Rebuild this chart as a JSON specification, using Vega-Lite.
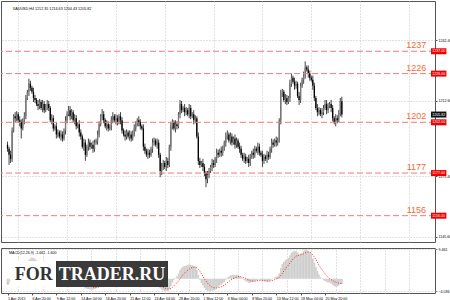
{
"$schema": "https://vega.github.io/schema/vega-lite/v6.json",
"padding": 0,
"background": "white",
"config": {"view": {"stroke": "#555", "strokeWidth": 1}, "concat": {"spacing": 3}, "font": "Liberation Sans",
"axisX": {"labels": false, "ticks": false, "domain": false, "grid": false, "title": null}},
"datasets": {
"bars": [
{"i":0,"o":1191,"h":1192.5,"l":1187.5,"c":1189,"m":-1.7,"s":-1.7},
{"i":1,"o":1189,"h":1190,"l":1181,"c":1186,"m":-1.3,"s":-1.6},
{"i":2,"o":1186,"h":1188,"l":1182,"c":1184,"m":-1.0,"s":-1.5},
{"i":3,"o":1184,"h":1199.5,"l":1182.5,"c":1198,"m":-0.5,"s":-1.3},
{"i":4,"o":1198,"h":1206,"l":1197,"c":1205,"m":0.5,"s":-0.9},
{"i":5,"o":1205,"h":1207,"l":1202,"c":1204,"m":1.0,"s":-0.5},
{"i":6,"o":1204,"h":1207.5,"l":1202.5,"c":1206,"m":1.5,"s":-0.1},
{"i":7,"o":1206,"h":1207,"l":1202,"c":1203,"m":2.0,"s":0.3},
{"i":8,"o":1203,"h":1205,"l":1200,"c":1202,"m":2.0,"s":0.6},
{"i":9,"o":1202,"h":1203.5,"l":1194,"c":1199,"m":1.8,"s":0.9},
{"i":10,"o":1199,"h":1204,"l":1198,"c":1203,"m":2.0,"s":1.1},
{"i":11,"o":1203,"h":1207,"l":1201,"c":1205,"m":2.3,"s":1.3},
{"i":12,"o":1205,"h":1215.5,"l":1203.5,"c":1214,"m":3.5,"s":1.8},
{"i":13,"o":1214,"h":1218,"l":1213,"c":1217,"m":4.8,"s":2.4},
{"i":14,"o":1217,"h":1223.5,"l":1215,"c":1221,"m":6.0,"s":3.1},
{"i":15,"o":1221,"h":1222.5,"l":1217.5,"c":1219,"m":6.5,"s":3.8},
{"i":16,"o":1219,"h":1220,"l":1216,"c":1217,"m":6.8,"s":4.4},
{"i":17,"o":1217,"h":1219,"l":1212,"c":1214,"m":6.7,"s":4.8},
{"i":18,"o":1214,"h":1215.5,"l":1211.5,"c":1213,"m":6.4,"s":5.1},
{"i":19,"o":1213,"h":1214,"l":1210,"c":1211,"m":6.0,"s":5.3},
{"i":20,"o":1211,"h":1213,"l":1208,"c":1210,"m":5.6,"s":5.4},
{"i":21,"o":1210,"h":1213.5,"l":1208.5,"c":1212,"m":5.3,"s":5.4},
{"i":22,"o":1212,"h":1213,"l":1208,"c":1209,"m":4.9,"s":5.3},
{"i":23,"o":1209,"h":1213,"l":1207,"c":1211,"m":4.6,"s":5.1},
{"i":24,"o":1211,"h":1212.5,"l":1206.5,"c":1208,"m":4.2,"s":4.9},
{"i":25,"o":1208,"h":1211,"l":1207,"c":1210,"m":3.9,"s":4.7},
{"i":26,"o":1210,"h":1213,"l":1208,"c":1211,"m":3.7,"s":4.5},
{"i":27,"o":1211,"h":1212.5,"l":1207.5,"c":1209,"m":3.4,"s":4.3},
{"i":28,"o":1209,"h":1210,"l":1202,"c":1203,"m":2.6,"s":4.0},
{"i":29,"o":1203,"h":1206,"l":1201,"c":1204,"m":2.1,"s":3.6},
{"i":30,"o":1204,"h":1205.5,"l":1197.5,"c":1199,"m":1.3,"s":3.1},
{"i":31,"o":1199,"h":1201,"l":1198,"c":1200,"m":0.8,"s":2.7},
{"i":32,"o":1200,"h":1202,"l":1194,"c":1196,"m":0.1,"s":2.2},
{"i":33,"o":1196,"h":1198.5,"l":1194.5,"c":1197,"m":-0.4,"s":1.7},
{"i":34,"o":1197,"h":1198,"l":1194,"c":1195,"m":-0.9,"s":1.2},
{"i":35,"o":1195,"h":1198,"l":1193,"c":1196,"m":-1.2,"s":0.7},
{"i":36,"o":1196,"h":1197.5,"l":1192.5,"c":1194,"m":-1.6,"s":0.2},
{"i":37,"o":1194,"h":1199,"l":1193,"c":1198,"m":-1.5,"s":-0.1},
{"i":38,"o":1198,"h":1205,"l":1196,"c":1203,"m":-1.0,"s":-0.3},
{"i":39,"o":1203,"h":1207.5,"l":1201.5,"c":1206,"m":-0.4,"s":-0.3},
{"i":40,"o":1206,"h":1210,"l":1205,"c":1208,"m":0.2,"s":-0.2},
{"i":41,"o":1208,"h":1210,"l":1203,"c":1205,"m":0.4,"s":-0.1},
{"i":42,"o":1205,"h":1208.5,"l":1203.5,"c":1207,"m":0.7,"s":0.1},
{"i":43,"o":1207,"h":1208,"l":1202,"c":1203,"m":0.6,"s":0.2},
{"i":44,"o":1203,"h":1206,"l":1201,"c":1204,"m":0.5,"s":0.2},
{"i":45,"o":1204,"h":1205.5,"l":1198.5,"c":1200,"m":0.1,"s":0.2},
{"i":46,"o":1200,"h":1202,"l":1199,"c":1201,"m":-0.1,"s":0.1},
{"i":47,"o":1201,"h":1203,"l":1195,"c":1197,"m":-0.6,"s":0.0},
{"i":48,"o":1197,"h":1198.5,"l":1193.5,"c":1195,"m":-1.1,"s":-0.2},
{"i":49,"o":1195,"h":1196,"l":1189,"c":1190,"m":-1.9,"s":-0.6},
{"i":50,"o":1190,"h":1194,"l":1188,"c":1192,"m":-2.3,"s":-0.9},
{"i":51,"o":1192,"h":1193.5,"l":1183,"c":1186,"m":-3.1,"s":-1.3},
{"i":52,"o":1186,"h":1191,"l":1185,"c":1190,"m":-3.3,"s":-1.7},
{"i":53,"o":1190,"h":1194,"l":1188,"c":1192,"m":-3.3,"s":-2.0},
{"i":54,"o":1192,"h":1193.5,"l":1188.5,"c":1190,"m":-3.4,"s":-2.3},
{"i":55,"o":1190,"h":1192,"l":1189,"c":1191,"m":-3.4,"s":-2.5},
{"i":56,"o":1191,"h":1193,"l":1187,"c":1189,"m":-3.5,"s":-2.7},
{"i":57,"o":1189,"h":1193.5,"l":1187.5,"c":1192,"m":-3.3,"s":-2.8},
{"i":58,"o":1192,"h":1194,"l":1191,"c":1193,"m":-3.1,"s":-2.9},
{"i":59,"o":1193,"h":1198,"l":1191,"c":1196,"m":-2.6,"s":-2.8},
{"i":60,"o":1196,"h":1202.5,"l":1194.5,"c":1201,"m":-1.8,"s":-2.6},
{"i":61,"o":1201,"h":1206,"l":1200,"c":1205,"m":-0.9,"s":-2.3},
{"i":62,"o":1205,"h":1208.5,"l":1203,"c":1206,"m":-0.2,"s":-1.9},
{"i":63,"o":1206,"h":1207.5,"l":1201.5,"c":1203,"m":0.1,"s":-1.5},
{"i":64,"o":1203,"h":1204,"l":1199,"c":1200,"m":0.1,"s":-1.2},
{"i":65,"o":1200,"h":1203,"l":1198,"c":1201,"m":0.2,"s":-0.9},
{"i":66,"o":1201,"h":1202.5,"l":1197.5,"c":1199,"m":0.1,"s":-0.7},
{"i":67,"o":1199,"h":1201,"l":1198,"c":1200,"m":0.1,"s":-0.5},
{"i":68,"o":1200,"h":1205,"l":1198,"c":1203,"m":0.3,"s":-0.3},
{"i":69,"o":1203,"h":1207,"l":1201.5,"c":1205,"m":0.6,"s":-0.1},
{"i":70,"o":1205,"h":1206,"l":1202,"c":1203,"m":0.7,"s":0.0},
{"i":71,"o":1203,"h":1206,"l":1201,"c":1204,"m":0.8,"s":0.2},
{"i":72,"o":1204,"h":1205.5,"l":1200.5,"c":1202,"m":0.8,"s":0.3},
{"i":73,"o":1202,"h":1206,"l":1201,"c":1205,"m":1.0,"s":0.4},
{"i":74,"o":1205,"h":1207,"l":1201,"c":1203,"m":1.0,"s":0.5},
{"i":75,"o":1203,"h":1204.5,"l":1196.5,"c":1198,"m":0.6,"s":0.5},
{"i":76,"o":1198,"h":1199,"l":1195,"c":1196,"m":0.2,"s":0.5},
{"i":77,"o":1196,"h":1198,"l":1193,"c":1195,"m":-0.1,"s":0.4},
{"i":78,"o":1195,"h":1198.5,"l":1193.5,"c":1197,"m":-0.2,"s":0.3},
{"i":79,"o":1197,"h":1198,"l":1194,"c":1195,"m":-0.4,"s":0.1},
{"i":80,"o":1195,"h":1198,"l":1193,"c":1196,"m":-0.5,"s":0.0},
{"i":81,"o":1196,"h":1197.5,"l":1192.5,"c":1194,"m":-0.7,"s":-0.1},
{"i":82,"o":1194,"h":1198,"l":1193,"c":1197,"m":-0.6,"s":-0.2},
{"i":83,"o":1197,"h":1201,"l":1195,"c":1199,"m":-0.4,"s":-0.2},
{"i":84,"o":1199,"h":1202.5,"l":1197.5,"c":1201,"m":-0.1,"s":-0.2},
{"i":85,"o":1201,"h":1204,"l":1200,"c":1203,"m":0.2,"s":-0.1},
{"i":86,"o":1203,"h":1205,"l":1200,"c":1202,"m":0.4,"s":0.0},
{"i":87,"o":1202,"h":1203.5,"l":1198.5,"c":1200,"m":0.4,"s":0.1},
{"i":88,"o":1200,"h":1201,"l":1198,"c":1199,"m":0.3,"s":0.1},
{"i":89,"o":1199,"h":1201,"l":1188,"c":1190,"m":-0.4,"s":0.0},
{"i":90,"o":1190,"h":1191.5,"l":1186.5,"c":1188,"m":-1.1,"s":-0.2},
{"i":91,"o":1188,"h":1189,"l":1185,"c":1186,"m":-1.8,"s":-0.5},
{"i":92,"o":1186,"h":1189,"l":1184,"c":1187,"m":-2.2,"s":-0.9},
{"i":93,"o":1187,"h":1188.5,"l":1184.5,"c":1186,"m":-2.6,"s":-1.2},
{"i":94,"o":1186,"h":1190,"l":1185,"c":1189,"m":-2.6,"s":-1.5},
{"i":95,"o":1189,"h":1194,"l":1187,"c":1192,"m":-2.4,"s":-1.7},
{"i":96,"o":1192,"h":1194.5,"l":1190.5,"c":1193,"m":-2.2,"s":-1.8},
{"i":97,"o":1193,"h":1194,"l":1190,"c":1191,"m":-2.1,"s":-1.8},
{"i":98,"o":1191,"h":1194,"l":1189,"c":1192,"m":-2.0,"s":-1.9},
{"i":99,"o":1192,"h":1193.5,"l":1184.5,"c":1186,"m":-2.4,"s":-2.0},
{"i":100,"o":1186,"h":1187,"l":1175,"c":1178,"m":-3.1,"s":-2.3},
{"i":101,"o":1178,"h":1182,"l":1176,"c":1180,"m":-3.5,"s":-2.5},
{"i":102,"o":1180,"h":1183.5,"l":1178.5,"c":1182,"m":-3.8,"s":-2.8},
{"i":103,"o":1182,"h":1183,"l":1179,"c":1180,"m":-4.0,"s":-3.0},
{"i":104,"o":1180,"h":1185,"l":1178,"c":1183,"m":-3.9,"s":-3.2},
{"i":105,"o":1183,"h":1184.5,"l":1179.5,"c":1181,"m":-3.9,"s":-3.3},
{"i":106,"o":1181,"h":1191,"l":1180,"c":1190,"m":-3.4,"s":-3.3},
{"i":107,"o":1190,"h":1202,"l":1188,"c":1200,"m":-2.4,"s":-3.2},
{"i":108,"o":1200,"h":1203.5,"l":1198.5,"c":1202,"m":-1.3,"s":-2.8},
{"i":109,"o":1202,"h":1203,"l":1198,"c":1199,"m":-0.5,"s":-2.3},
{"i":110,"o":1199,"h":1203,"l":1197,"c":1201,"m":0.2,"s":-1.8},
{"i":111,"o":1201,"h":1202.5,"l":1198.5,"c":1200,"m":0.8,"s":-1.3},
{"i":112,"o":1200,"h":1207,"l":1199,"c":1206,"m":1.7,"s":-0.7},
{"i":113,"o":1206,"h":1213,"l":1204,"c":1211,"m":2.8,"s":0.0},
{"i":114,"o":1211,"h":1212.5,"l":1206.5,"c":1208,"m":3.4,"s":0.6},
{"i":115,"o":1208,"h":1210,"l":1207,"c":1209,"m":3.9,"s":1.3},
{"i":116,"o":1209,"h":1211,"l":1205,"c":1207,"m":4.1,"s":1.8},
{"i":117,"o":1207,"h":1209.5,"l":1205.5,"c":1208,"m":4.3,"s":2.3},
{"i":118,"o":1208,"h":1209,"l":1205,"c":1206,"m":4.4,"s":2.7},
{"i":119,"o":1206,"h":1211,"l":1204,"c":1209,"m":4.6,"s":3.1},
{"i":120,"o":1209,"h":1210.5,"l":1203.5,"c":1205,"m":4.5,"s":3.4},
{"i":121,"o":1205,"h":1207,"l":1204,"c":1206,"m":4.4,"s":3.6},
{"i":122,"o":1206,"h":1208,"l":1201,"c":1203,"m":4.1,"s":3.7},
{"i":123,"o":1203,"h":1205.5,"l":1201.5,"c":1204,"m":3.9,"s":3.7},
{"i":124,"o":1204,"h":1205,"l":1194,"c":1195,"m":2.9,"s":3.5},
{"i":125,"o":1195,"h":1197,"l":1181,"c":1183,"m":1.2,"s":3.1},
{"i":126,"o":1183,"h":1184.5,"l":1179.5,"c":1181,"m":-0.3,"s":2.4},
{"i":127,"o":1181,"h":1183,"l":1180,"c":1182,"m":-1.4,"s":1.6},
{"i":128,"o":1182,"h":1184,"l":1178,"c":1180,"m":-2.2,"s":0.8},
{"i":129,"o":1180,"h":1181.5,"l":1175.5,"c":1177,"m":-3.0,"s":0.0},
{"i":130,"o":1177,"h":1178,"l":1170,"c":1174,"m":-3.6,"s":-0.7},
{"i":131,"o":1174,"h":1178,"l":1172,"c":1176,"m":-3.9,"s":-1.4},
{"i":132,"o":1176,"h":1179.5,"l":1174.5,"c":1178,"m":-4.036,"s":-2.0},
{"i":133,"o":1178,"h":1181,"l":1177,"c":1180,"m":-4.0,"s":-2.4},
{"i":134,"o":1180,"h":1184,"l":1178,"c":1182,"m":-3.9,"s":-2.7},
{"i":135,"o":1182,"h":1183.5,"l":1179.5,"c":1181,"m":-3.7,"s":-2.9},
{"i":136,"o":1181,"h":1185,"l":1180,"c":1184,"m":-3.4,"s":-3.0},
{"i":137,"o":1184,"h":1189,"l":1182,"c":1187,"m":-3.0,"s":-3.0},
{"i":138,"o":1187,"h":1188.5,"l":1184.5,"c":1186,"m":-2.6,"s":-2.9},
{"i":139,"o":1186,"h":1189,"l":1185,"c":1188,"m":-2.2,"s":-2.8},
{"i":140,"o":1188,"h":1190,"l":1185,"c":1187,"m":-1.9,"s":-2.6},
{"i":141,"o":1187,"h":1190.5,"l":1185.5,"c":1189,"m":-1.5,"s":-2.4},
{"i":142,"o":1189,"h":1193,"l":1188,"c":1192,"m":-1.1,"s":-2.1},
{"i":143,"o":1192,"h":1197,"l":1190,"c":1195,"m":-0.3,"s":-1.7},
{"i":144,"o":1195,"h":1198,"l":1193.5,"c":1196,"m":0.4,"s":-1.3},
{"i":145,"o":1196,"h":1197,"l":1192,"c":1193,"m":0.7,"s":-0.9},
{"i":146,"o":1193,"h":1197,"l":1191,"c":1195,"m":1.1,"s":-0.5},
{"i":147,"o":1195,"h":1196.5,"l":1190.5,"c":1192,"m":1.1,"s":-0.2},
{"i":148,"o":1192,"h":1195,"l":1191,"c":1194,"m":1.3,"s":0.1},
{"i":149,"o":1194,"h":1196,"l":1189,"c":1191,"m":1.2,"s":0.3},
{"i":150,"o":1191,"h":1194.5,"l":1189.5,"c":1193,"m":1.3,"s":0.5},
{"i":151,"o":1193,"h":1194,"l":1189,"c":1190,"m":1.1,"s":0.6},
{"i":152,"o":1190,"h":1192,"l":1187,"c":1189,"m":0.9,"s":0.7},
{"i":153,"o":1189,"h":1190.5,"l":1184.5,"c":1186,"m":0.4,"s":0.6},
{"i":154,"o":1186,"h":1187,"l":1183,"c":1184,"m":-0.1,"s":0.5},
{"i":155,"o":1184,"h":1187,"l":1182,"c":1185,"m":-0.4,"s":0.3},
{"i":156,"o":1185,"h":1186.5,"l":1181.5,"c":1183,"m":-0.8,"s":0.1},
{"i":157,"o":1183,"h":1185,"l":1182,"c":1184,"m":-1.0,"s":-0.1},
{"i":158,"o":1184,"h":1186,"l":1180,"c":1182,"m":-1.3,"s":-0.4},
{"i":159,"o":1182,"h":1186.5,"l":1180.5,"c":1185,"m":-1.3,"s":-0.6},
{"i":160,"o":1185,"h":1188,"l":1184,"c":1187,"m":-1.1,"s":-0.7},
{"i":161,"o":1187,"h":1189,"l":1184,"c":1186,"m":-1.0,"s":-0.8},
{"i":162,"o":1186,"h":1190.5,"l":1184.5,"c":1189,"m":-0.7,"s":-0.8},
{"i":163,"o":1189,"h":1190,"l":1187,"c":1188,"m":-0.6,"s":-0.7},
{"i":164,"o":1188,"h":1192,"l":1186,"c":1190,"m":-0.3,"s":-0.6},
{"i":165,"o":1190,"h":1191.5,"l":1185.5,"c":1187,"m":-0.3,"s":-0.6},
{"i":166,"o":1187,"h":1188,"l":1185,"c":1186,"m":-0.4,"s":-0.5},
{"i":167,"o":1186,"h":1188,"l":1180,"c":1183,"m":-0.7,"s":-0.6},
{"i":168,"o":1183,"h":1186.5,"l":1181.5,"c":1185,"m":-0.8,"s":-0.6},
{"i":169,"o":1185,"h":1186,"l":1183,"c":1184,"m":-0.9,"s":-0.7},
{"i":170,"o":1184,"h":1188,"l":1182,"c":1186,"m":-0.9,"s":-0.7},
{"i":171,"o":1186,"h":1187.5,"l":1183.5,"c":1185,"m":-0.9,"s":-0.8},
{"i":172,"o":1185,"h":1190,"l":1184,"c":1189,"m":-0.6,"s":-0.7},
{"i":173,"o":1189,"h":1194,"l":1187,"c":1192,"m":-0.2,"s":-0.6},
{"i":174,"o":1192,"h":1193.5,"l":1189.5,"c":1191,"m":0.1,"s":-0.5},
{"i":175,"o":1191,"h":1194,"l":1190,"c":1193,"m":0.4,"s":-0.3},
{"i":176,"o":1193,"h":1195,"l":1190,"c":1192,"m":0.6,"s":-0.1},
{"i":177,"o":1192,"h":1194.5,"l":1190.5,"c":1193,"m":0.8,"s":0.1},
{"i":178,"o":1193,"h":1204,"l":1192,"c":1203,"m":1.7,"s":0.4},
{"i":179,"o":1203,"h":1218,"l":1201,"c":1216,"m":3.4,"s":1.0},
{"i":180,"o":1216,"h":1218.5,"l":1214.5,"c":1217,"m":4.7,"s":1.7},
{"i":181,"o":1217,"h":1218,"l":1212,"c":1213,"m":5.4,"s":2.5},
{"i":182,"o":1213,"h":1216,"l":1211,"c":1214,"m":6.0,"s":3.2},
{"i":183,"o":1214,"h":1215.5,"l":1210.5,"c":1212,"m":6.3,"s":3.8},
{"i":184,"o":1212,"h":1215,"l":1211,"c":1214,"m":6.7,"s":4.4},
{"i":185,"o":1214,"h":1223,"l":1212,"c":1221,"m":7.6,"s":5.0},
{"i":186,"o":1221,"h":1226,"l":1219.5,"c":1224,"m":8.4,"s":5.7},
{"i":187,"o":1224,"h":1225,"l":1221,"c":1222,"m":8.8,"s":6.3},
{"i":188,"o":1222,"h":1224,"l":1218,"c":1220,"m":8.9,"s":6.8},
{"i":189,"o":1220,"h":1222.5,"l":1218.5,"c":1221,"m":9.0,"s":7.3},
{"i":190,"o":1221,"h":1222,"l":1214,"c":1215,"m":8.5,"s":7.5},
{"i":191,"o":1215,"h":1217,"l":1210.5,"c":1213,"m":7.8,"s":7.6},
{"i":192,"o":1213,"h":1221.5,"l":1211.5,"c":1220,"m":8.0,"s":7.7},
{"i":193,"o":1220,"h":1224,"l":1219,"c":1223,"m":8.4,"s":7.8},
{"i":194,"o":1223,"h":1227,"l":1221,"c":1225,"m":8.9,"s":8.0},
{"i":195,"o":1225,"h":1232,"l":1223.5,"c":1229,"m":9.461,"s":8.3},
{"i":196,"o":1229,"h":1230,"l":1227,"c":1228,"m":9.3,"s":8.5},
{"i":197,"o":1228,"h":1230,"l":1224,"c":1226,"m":9.0,"s":8.6},
{"i":198,"o":1226,"h":1227.5,"l":1222.5,"c":1224,"m":8.5,"s":8.5},
{"i":199,"o":1224,"h":1225,"l":1222,"c":1223,"m":7.8,"s":8.2},
{"i":200,"o":1223,"h":1225,"l":1218,"c":1220,"m":6.5,"s":7.6},
{"i":201,"o":1220,"h":1221.5,"l":1212.5,"c":1214,"m":5.2,"s":7.0},
{"i":202,"o":1214,"h":1215,"l":1208,"c":1209,"m":3.8,"s":6.2},
{"i":203,"o":1209,"h":1211,"l":1205,"c":1207,"m":2.5,"s":5.3},
{"i":204,"o":1207,"h":1209.5,"l":1205.5,"c":1208,"m":1.4,"s":4.4},
{"i":205,"o":1208,"h":1209,"l":1205,"c":1206,"m":0.5,"s":3.6},
{"i":206,"o":1206,"h":1209,"l":1204,"c":1207,"m":-0.1,"s":2.9},
{"i":207,"o":1207,"h":1210.5,"l":1205.5,"c":1209,"m":-0.5,"s":2.3},
{"i":208,"o":1209,"h":1213,"l":1208,"c":1211,"m":-0.7,"s":1.6},
{"i":209,"o":1211,"h":1213,"l":1206,"c":1208,"m":-1.0,"s":1.0},
{"i":210,"o":1208,"h":1211.5,"l":1206.5,"c":1210,"m":-1.2,"s":0.4},
{"i":211,"o":1210,"h":1212,"l":1209,"c":1211,"m":-1.3,"s":0.0},
{"i":212,"o":1211,"h":1213,"l":1207,"c":1209,"m":-1.5,"s":-0.3},
{"i":213,"o":1209,"h":1210.5,"l":1202.5,"c":1204,"m":-2.0,"s":-0.6},
{"i":214,"o":1204,"h":1205,"l":1201,"c":1202,"m":-2.4,"s":-0.9},
{"i":215,"o":1202,"h":1206,"l":1200,"c":1204,"m":-2.5,"s":-1.1},
{"i":216,"o":1204,"h":1205.5,"l":1201.5,"c":1203,"m":-2.5,"s":-1.3},
{"i":217,"o":1203,"h":1208,"l":1202,"c":1207,"m":-2.2,"s":-1.4},
{"i":218,"o":1207,"h":1214,"l":1205,"c":1212.35,"m":-1.6,"s":-1.5},
{"i":219,"o":1212.35,"h":1214.63,"l":1204.43,"c":1205.82,"m":-1.661,"s":-1.6}
],
"levels": [
{"level":1237,"name":"1237","box":"1237.00"},
{"level":1226,"name":"1226","box":"1226.00"},
{"level":1202,"name":"1202","box":"1202.00"},
{"level":1177,"name":"1177","box":"1177.00"},
{"level":1156,"name":"1156","box":"1156.00"}
],
"price": [{"p":1205.82,"box":"1205.82"}],
"header": [{"t":"XAUUSD,H4  1212.35 1214.63 1204.43 1205.82"}],
"macdtitle": [{"t":"MACD(12,26,9) -1.661 -1.600"}]
},
"vconcat": [
{
"width": 434, "height": 241,
"layer": [
{
"data": {"name": "bars"},
"mark": {"type": "rule", "color": "#444", "strokeWidth": 1},
"encoding": {
"x": {"field": "i", "type": "quantitative", "scale": {"domain": [-1, 276.76], "nice": false, "zero": false},
"axis": {"values": [7,23,39,55,71,87,103,119,135,151,167,183,199,215,231,247,263], "labels": false, "ticks": false, "domain": false, "grid": true, "gridColor": "#c4c4c4", "gridDash": [1,2], "title": null}},
"y": {"field": "l", "type": "quantitative", "scale": {"domain": [1145.5, 1259.3], "nice": false, "zero": false},
"axis": {"orient": "right", "title": null, "values": [1145.6,1153.0,1160.4,1168.0,1175.4,1182.8,1190.2,1197.8,1212.6,1220.0,1227.6,1235.0,1242.4,1249.8,1257.4], "format": ".2f", "labelFontSize": 3.6, "labelColor": "#000", "tickSize": 2, "tickColor": "#555", "labelPadding": 1, "domain": false, "grid": true, "gridColor": "#c4c4c4", "gridDash": [1,2]}},
"y2": {"field": "h"}
}
},
{
"data": {"name": "bars"},
"mark": {"type": "bar", "size": 1.3},
"encoding": {
"x": {"field": "i", "type": "quantitative"},
"y": {"field": "o", "type": "quantitative"},
"y2": {"field": "c"},
"color": {"condition": {"test": "datum.c >= datum.o", "value": "#777"}, "value": "#000"}
}
},
{
"data": {"name": "levels"},
"mark": {"type": "rule", "color": "#f47a7a", "strokeWidth": 1, "strokeDash": [6,3]},
"encoding": {"y": {"field": "level", "type": "quantitative"}}
},
{
"data": {"name": "levels"},
"mark": {"type": "text", "color": "#f26a35", "fontSize": 9, "baseline": "bottom", "dy": -1, "align": "center"},
"encoding": {"x": {"datum": 267.8, "type": "quantitative"}, "y": {"field": "level", "type": "quantitative"}, "text": {"field": "name"}}
},
{
"data": {"name": "levels"},
"mark": {"type": "bar", "color": "#f00000", "size": 6},
"encoding": {"x": {"datum": 277.4, "type": "quantitative"}, "x2": {"datum": 287.5}, "y": {"field": "level", "type": "quantitative"}}
},
{
"data": {"name": "levels"},
"mark": {"type": "text", "color": "white", "fontSize": 3.6, "align": "left", "baseline": "middle"},
"encoding": {"x": {"datum": 278.3, "type": "quantitative"}, "y": {"field": "level", "type": "quantitative"}, "text": {"field": "box"}}
},
{
"data": {"name": "price"},
"mark": {"type": "bar", "color": "#111", "size": 6},
"encoding": {"x": {"datum": 277.4, "type": "quantitative"}, "x2": {"datum": 287.5}, "y": {"field": "p", "type": "quantitative"}}
},
{
"data": {"name": "price"},
"mark": {"type": "text", "color": "white", "fontSize": 3.6, "align": "left", "baseline": "middle"},
"encoding": {"x": {"datum": 278.3, "type": "quantitative"}, "y": {"field": "p", "type": "quantitative"}, "text": {"field": "box"}}
},
{
"data": {"name": "header"},
"mark": {"type": "text", "color": "#000", "fontSize": 3.7, "align": "left", "baseline": "middle"},
"encoding": {"x": {"datum": 3.5, "type": "quantitative"}, "y": {"datum": 1257.6, "type": "quantitative"}, "text": {"field": "t"}}
}
]
},
{
"width": 434, "height": 45,
"data": {"name": "bars"},
"layer": [
{
"mark": {"type": "bar", "size": 1.6, "color": "#cfcfcf"},
"encoding": {
"x": {"field": "i", "type": "quantitative", "scale": {"domain": [-1, 276.76], "nice": false, "zero": false},
"axis": {"orient": "top", "values": [7,23,39,55,71,87,103,119,135,151,167,183,199,215,231,247,263], "labels": false, "ticks": false, "domain": false, "grid": true, "gridColor": "#c4c4c4", "gridDash": [1,2], "title": null}},
"y": {"field": "m", "type": "quantitative", "scale": {"domain": [-4.6, 9.9], "nice": false, "zero": false},
"axis": {"orient": "right", "title": null, "values": [-4.036, 0, 9.461], "labelExpr": "datum.value == 0 ? '0.00' : format(datum.value, '.3f')", "labelFlush": true, "labelFontSize": 3.6, "labelColor": "#000", "tickSize": 2, "labelPadding": 1, "domain": false, "grid": true, "gridColor": "#c4c4c4", "gridDash": [1,2]}}
}
},
{
"mark": {"type": "line", "color": "#ff2020", "strokeWidth": 1, "strokeDash": [1,1.5]},
"encoding": {
"x": {"field": "i", "type": "quantitative",
"axis": {"orient": "bottom", "values": [0,16,32,48,64,80,96,112,128,144,160,176,192,208], "labelExpr": "['1 Apr 2015','6 Apr 20:00','9 Apr 12:00','14 Apr 04:00','16 Apr 20:00','21 Apr 12:00','24 Apr 04:00','28 Apr 20:00','1 May 12:00','6 May 04:00','8 May 20:00','13 May 12:00','18 May 04:00','20 May 20:00'][round(datum.value/16)]", "labels": true, "ticks": true, "labelAlign": "left", "labelFontSize": 3.6, "labelColor": "#000", "tickSize": 2, "tickColor": "#555", "labelPadding": 1, "domain": false, "grid": false, "title": null, "labelOverlap": false}},
"y": {"field": "s", "type": "quantitative"}
}
},
{
"data": {"name": "macdtitle"},
"mark": {"type": "text", "color": "#000", "fontSize": 3.6, "align": "left", "baseline": "middle"},
"encoding": {"x": {"datum": 1, "type": "quantitative"}, "y": {"datum": 8.2, "type": "quantitative"}, "text": {"field": "t"}}
},
{
"mark": {"type": "rect", "color": "white"},
"encoding": {"x": {"datum": 2.2, "type": "quantitative"}, "x2": {"datum": 104.6}, "y": {"datum": 5.5, "type": "quantitative"}, "y2": {"datum": -2.6}}
},
{
"mark": {"type": "rect", "color": "#3a3a3a"},
"encoding": {"x": {"datum": 32.3, "type": "quantitative"}, "x2": {"datum": 104.6}, "y": {"datum": 5.5, "type": "quantitative"}, "y2": {"datum": -2.6}}
},
{
"data": {"values": [{"w": "FOR"}]},
"mark": {"type": "text", "color": "#333", "font": "Liberation Serif", "fontWeight": "bold", "fontSize": 18, "align": "center", "baseline": "middle", "dy": 1},
"encoding": {"x": {"datum": 17.2, "type": "quantitative"}, "y": {"datum": 1.45, "type": "quantitative"}, "text": {"field": "w"}}
},
{
"data": {"values": [{"w": "TRADER.RU"}]},
"mark": {"type": "text", "color": "white", "font": "Liberation Serif", "fontWeight": "bold", "fontSize": 18, "align": "center", "baseline": "middle", "dy": 1},
"encoding": {"x": {"datum": 68.5, "type": "quantitative"}, "y": {"datum": 1.45, "type": "quantitative"}, "text": {"field": "w"}}
}
],
"resolve": {"axis": {"x": "independent"}}
}
]
}
